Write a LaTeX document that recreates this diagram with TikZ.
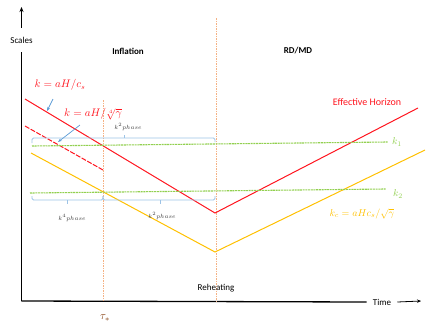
\documentclass[tikz,border=0pt]{standalone}
\usepackage{fontspec}
\setmainfont{Carlito}
\usetikzlibrary{arrows.meta}
\definecolor{hred}{RGB}{255,20,30}
\definecolor{kyel}{RGB}{255,192,0}
\definecolor{kgrn}{RGB}{146,208,80}
\definecolor{bblue}{RGB}{157,195,230}
\definecolor{ablue}{RGB}{91,155,213}
\definecolor{dorange}{RGB}{244,177,131}
\definecolor{tbrown}{RGB}{132,60,12}
\tikzset{
  axisline/.style={line width=1.3pt,black},
  vdash/.style={dorange,line width=0.6pt,dash pattern=on 1.5pt off 1pt},
  horizon/.style={hred,line width=1pt},
  yline/.style={kyel,line width=1pt},
  gline/.style={kgrn,line width=1.1pt,dash pattern=on 2pt off 0.7pt},
  bracestyle/.style={bblue,line width=0.8pt,rounded corners=1.5pt},
  barrow/.style={ablue,line width=0.7pt,-{Stealth[length=4pt,width=3pt]}},
  lbl/.style={font=\fontsize{9}{10}\selectfont,inner sep=0pt},
  phase/.style={font=\fontsize{6.5}{7}\selectfont,text=black!75,inner sep=0pt},
}
\begin{document}
\begin{tikzpicture}[x=1pt,y=-1pt]
\useasboundingbox (0,0) rectangle (436,327);
% axes
\coordinate (O) at (21.5,301);
\coordinate (ytop) at (21.5,7);
\coordinate (xend) at (421,301);
\node[lbl,inner ysep=9pt] (scales) at (21.5,40) {Scales};
\node[lbl,inner xsep=6pt] (time) at (382,302) {Time};
\draw[axisline] (O) -- (O |- scales.south);
\draw[axisline,-{Stealth[length=5pt,width=4pt]}] (scales.north) -- (ytop);
\draw[axisline] (O) -- (time.west);
\draw[line width=0.8pt,-{Stealth[length=4pt,width=3.5pt]}] (time.east) -- (xend);
% vertical dashed lines
\coordinate (ts) at (103,100);
\coordinate (rh) at (216,18);
\draw[vdash] (ts) -- (ts |- O);
\draw[vdash] (rh) -- (rh |- O);
% region labels
\node[lbl,font=\fontsize{9}{10}\selectfont\bfseries] (infl) at (128,51) {Inflation};
\node[lbl,font=\fontsize{9}{10}\selectfont\bfseries] (rdmd) at (298,51) {RD/MD};
\node[lbl] (reh) at (216,288) {Reheating};
\node[inner sep=0pt,text=tbrown,font=\fontsize{11}{12}\selectfont] (tau) at (105,318) {$\tau_*$};
% effective horizon
\coordinate (r1) at (25,99);
\coordinate (r2) at (215,213);
\coordinate (r3) at (418,108);
\draw[horizon] (r1) -- (r2) -- (r3);
\coordinate (d1) at (25,126);
\coordinate (d2) at (103,170);
\draw[horizon,dash pattern=on 5pt off 1.5pt] (d1) -- (d2);
% yellow
\coordinate (y1) at (31,153);
\coordinate (y2) at (215,252);
\coordinate (y3) at (425,150);
\draw[yline] (y1) -- (y2) -- (y3);
% green k lines
\coordinate (g1a) at (32,146);
\coordinate (g1b) at (388,142);
\coordinate (g2a) at (30,193);
\coordinate (g2b) at (386,189);
\draw[gline] (g1a) -- (g1b);
\draw[gline] (g2a) -- (g2b);
\node[text=kgrn,inner sep=0pt,font=\fontsize{10}{11}\selectfont] (k1) at (397,142) {$k_1$};
\node[text=kgrn,inner sep=0pt,font=\fontsize{10}{11}\selectfont] (k2) at (398,194) {$k_2$};
% braces
\coordinate (ba) at (32,143);
\coordinate (bt) at (124,138);
\coordinate (bb) at (215,142);
\draw[bracestyle] (ba) |- (bt) -| (bb);
\draw[bracestyle] (bt) -- ++(0,-3.5);
\node[phase] (p1) at (128,127) {$k^2phase$};
\coordinate (bc) at (32,196);
\coordinate (t1) at (67,200);
\coordinate (bd) at (103,196);
\coordinate (t2) at (160,200);
\coordinate (be) at (215,196);
\draw[bracestyle] (bc) |- (t1) -| (bd);
\draw[bracestyle] (bd) |- (t2) -| (be);
\draw[bracestyle] (t1) -- ++(0,4);
\draw[bracestyle] (t2) -- ++(0,4);
\node[phase] (p2) at (72,218) {$k^4phase$};
\node[phase] (p3) at (162,216) {$k^2phase$};
% labels
\node[text=hred,inner sep=0pt,font=\fontsize{10.5}{12}\selectfont] (l1) at (60,85) {$k=aH/c_s$};
\node[text=hred,inner sep=0pt,font=\fontsize{10.5}{12}\selectfont] (l2) at (93,114) {$k=aH/\sqrt[4]{\gamma}$};
\node[text=hred,inner sep=0pt,font=\fontsize{10}{11}\selectfont] (eh) at (367,102) {Effective Horizon};
\node[text=kyel,inner sep=0pt,font=\fontsize{10}{11}\selectfont] (kc) at (362,214) {$k_c=aHc_s/\sqrt{\gamma}$};
% blue arrows
\coordinate (a1s) at (53,99);
\coordinate (a1e) at (47,111);
\coordinate (a2s) at (80,125);
\coordinate (a2e) at (58,142);
\draw[barrow] (a1s) -- (a1e);
\draw[barrow] (a2s) -- (a2e);
\end{tikzpicture}
\end{document}
